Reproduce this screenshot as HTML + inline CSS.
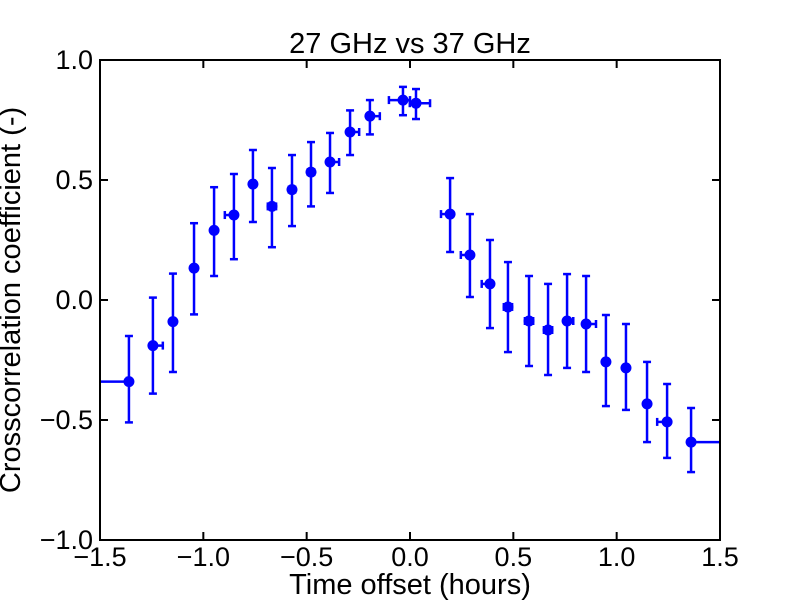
<!DOCTYPE html>
<html><head><meta charset="utf-8"><style>
body{margin:0;background:#fff}
svg text{font-family:"Liberation Sans",sans-serif;fill:#000}
</style></head><body>
<svg id="chart" width="800" height="600">
<defs><clipPath id="clip"><rect x="100" y="60" width="620" height="480"/></clipPath></defs>
<rect x="0" y="0" width="800" height="600" fill="#fff"/>
<text x="410" y="53" font-size="29" text-anchor="middle">27 GHz vs 37 GHz</text>
<g id="marks" clip-path="url(#clip)"></g>
<rect x="100" y="60" width="620" height="480" fill="none" stroke="#000" stroke-width="2"/>
<g id="axes"></g>
<text x="410" y="594" font-size="29" text-anchor="middle">Time offset (hours)</text>
<text x="0" y="0" font-size="29" text-anchor="middle" transform="translate(20,300) rotate(-90)">Crosscorrelation coefficient (-)</text>
</svg>
<script>
const xs=[-1.36,-1.244,-1.147,-1.045,-0.948,-0.852,-0.76,-0.668,-0.571,-0.479,-0.387,-0.29,-0.194,-0.034,0.029,0.194,0.29,0.387,0.474,0.576,0.668,0.76,0.852,0.948,1.045,1.147,1.244,1.36];
const ys=[-0.34,-0.19,-0.09,0.133,0.29,0.354,0.483,0.39,0.46,0.533,0.575,0.70,0.766,0.833,0.82,0.358,0.1875,0.067,-0.029,-0.0875,-0.125,-0.0875,-0.1,-0.258,-0.283,-0.433,-0.508,-0.592];
const yTop=[-0.15,0.01,0.11,0.32,0.47,0.525,0.625,0.55,0.604,0.658,0.696,0.79,0.833,0.888,0.879,0.508,0.358,0.25,0.158,0.1,0.067,0.108,0.1,-0.0625,-0.1,-0.258,-0.35,-0.45];
const yBot=[-0.51,-0.39,-0.30,-0.06,0.10,0.17,0.325,0.22,0.308,0.39,0.446,0.604,0.69,0.77,0.754,0.2,0.0125,-0.117,-0.217,-0.275,-0.3125,-0.283,-0.3,-0.442,-0.458,-0.592,-0.658,-0.717];
const xMinus=[0.4,0,0,0,0,0.044,0,0.02,0.015,0.015,0,0,0,0.068,0.03,0.044,0.044,0.04,0.02,0.02,0.02,0,0,0,0,0,0.048,0];
const xPlus=[0,0.048,0,0,0,0,0,0.02,0.015,0.015,0.044,0.044,0.048,0.034,0.068,0,0,0,0.02,0.02,0.02,0.03,0.048,0,0,0,0,0.4];
const xTicks=[-1.5,-1.0,-0.5,0.0,0.5,1.0,1.5];
const yTicks=[-1.0,-0.5,0.0,0.5,1.0];
const X=v=>410+v*206.667, Y=v=>300-v*240;
const NS="http://www.w3.org/2000/svg";
function mk(tag,attrs,parent){const e=document.createElementNS(NS,tag);for(const k in attrs)e.setAttribute(k,attrs[k]);parent.appendChild(e);return e;}
const marks=document.getElementById('marks'), axes=document.getElementById('axes');
const C="#0000ff";
xs.forEach((x,i)=>{
  const g=mk('g',{},marks);
  
  
  const cx=X(x), cy=Y(ys[i]);
  mk('line',{x1:cx,x2:cx,y1:Y(yTop[i]),y2:Y(yBot[i]),stroke:C,'stroke-width':2.5},g);
  mk('line',{x1:cx-4,x2:cx+4,y1:Y(yTop[i]),y2:Y(yTop[i]),stroke:C,'stroke-width':2.5},g);
  mk('line',{x1:cx-4,x2:cx+4,y1:Y(yBot[i]),y2:Y(yBot[i]),stroke:C,'stroke-width':2.5},g);
  if(xMinus[i]>0||xPlus[i]>0){
    const l=X(x-xMinus[i]), r=X(x+xPlus[i]);
    mk('line',{x1:l,x2:r,y1:cy,y2:cy,stroke:C,'stroke-width':2.5},g);
    if(xMinus[i]>0)mk('line',{x1:l,x2:l,y1:cy-4,y2:cy+4,stroke:C,'stroke-width':2.5},g);
    if(xPlus[i]>0)mk('line',{x1:r,x2:r,y1:cy-4,y2:cy+4,stroke:C,'stroke-width':2.5},g);
  }
  mk('circle',{cx:cx,cy:cy,r:5.5,fill:C},g);
});
xTicks.forEach(t=>{
  const px=X(t);
  const a=mk('line',{x1:px,x2:px,y1:540,y2:532,stroke:'#000','stroke-width':2},axes);
  
  
  mk('line',{x1:px,x2:px,y1:60,y2:68,stroke:'#000','stroke-width':2},axes);
  const tx=mk('text',{x:px,y:566,'font-size':27,'text-anchor':'middle'},axes);
  tx.textContent=(t<0?'\u2212':'')+Math.abs(t).toFixed(1);
  
  
});
yTicks.forEach(t=>{
  const py=Y(t);
  const a=mk('line',{x1:100,x2:108,y1:py,y2:py,stroke:'#000','stroke-width':2},axes);
  
  
  mk('line',{x1:712,x2:720,y1:py,y2:py,stroke:'#000','stroke-width':2},axes);
  const tx=mk('text',{x:93,y:py+9,'font-size':27,'text-anchor':'end'},axes);
  tx.textContent=(t<0?'\u2212':'')+Math.abs(t).toFixed(1);
  
  
});
</script>
</body></html>
